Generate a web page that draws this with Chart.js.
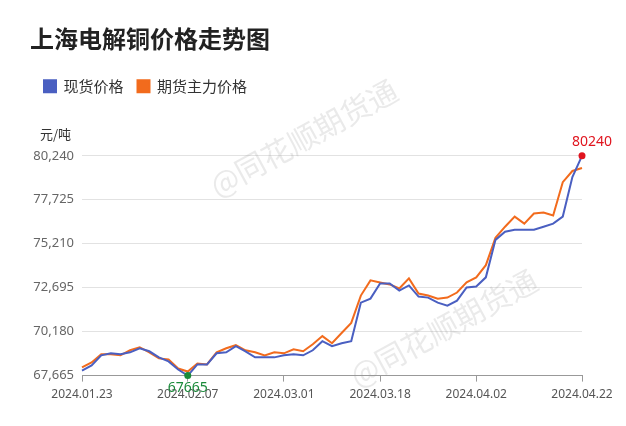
<!DOCTYPE html>
<html lang="zh">
<head>
<meta charset="UTF-8">
<script src="https://cdn.jsdelivr.net/npm/chart.js"></script>
<style>
  body { margin: 0; background: #fff; }
  #wrap { position: relative; width: 626px; height: 426px; }
</style>
</head>
<body>
<div id="wrap"><canvas id="myChart" width="626" height="426"></canvas></div>
<script>
const fechas = ['2024.01.23','2024.01.24','2024.01.25','2024.01.26','2024.01.29','2024.01.30','2024.01.31','2024.02.01','2024.02.02','2024.02.05','2024.02.06','2024.02.07',
  '2024.02.19','2024.02.20','2024.02.21','2024.02.22','2024.02.23','2024.02.26','2024.02.27','2024.02.28','2024.02.29','2024.03.01',
  '2024.03.04','2024.03.05','2024.03.06','2024.03.07','2024.03.11','2024.03.12','2024.03.13','2024.03.14','2024.03.15','2024.03.18',
  '2024.03.19','2024.03.20','2024.03.21','2024.03.22','2024.03.25','2024.03.26','2024.03.27','2024.03.28','2024.03.29','2024.04.02',
  '2024.04.03','2024.04.08','2024.04.09','2024.04.10','2024.04.11','2024.04.12','2024.04.15','2024.04.16','2024.04.17','2024.04.18','2024.04.22'];
const fechasEje = ['2024.01.23','2024.02.07','2024.03.01','2024.03.18','2024.04.02','2024.04.22'];
const precioSpot = [67955,68245,68824,68940,68882,68998,69230,69056,68708,68476,68013,67665,
  68302,68302,68940,68998,69346,69056,68708,68708,68708,68824,
  68882,68824,69114,69635,69346,69519,69635,71837,72069,72938,
  72938,72533,72823,72185,72127,71837,71664,71953,72707,72765,
  73286,75430,75894,76010,76010,76010,76184,76358,76763,79023,80240];
const precioFuturo = [68129,68418,68882,68882,68824,69114,69288,68998,68650,68592,68071,67897,
  68360,68302,68998,69230,69404,69114,68998,68824,68998,68940,
  69172,69056,69461,69925,69519,70099,70678,72243,73112,72996,
  72881,72649,73228,72359,72243,72069,72127,72417,72996,73286,
  73982,75546,76184,76763,76358,76937,76995,76821,78733,79371,79545];
const ticksY = [67665,70180,72695,75210,77725,80240];

const espacioLeyenda = {
  id: 'espacioLeyenda',
  beforeUpdate(chart) {
    const lg = chart.legend;
    if (lg && !lg._extra) {
      const fit = lg.fit;
      lg.fit = function () { fit.call(this); this.height += 52; };
      lg._extra = true;
    }
  }
};

const marcas = {
  id: 'marcas',
  afterDatasetsDraw(chart) {
    const ctx = chart.ctx, x = chart.scales.x, y = chart.scales.y;
    const iMax = precioSpot.indexOf(Math.max(...precioSpot));
    const iMin = precioSpot.indexOf(Math.min(...precioSpot));
    [[iMax, '#e0141e', -14], [iMin, '#1a8a3a', 12]].forEach(([i, color, dy]) => {
      const px = x.getPixelForValue(i), py = y.getPixelForValue(precioSpot[i]);
      ctx.save();
      ctx.fillStyle = color;
      ctx.beginPath(); ctx.arc(px, py, 3.5, 0, Math.PI * 2); ctx.fill();
      ctx.font = '14px "Noto Sans", sans-serif';
      ctx.textAlign = 'center';
      ctx.textBaseline = 'middle';
      ctx.fillText(String(precioSpot[i]), px + (i === iMax ? 10 : 0), py + dy);
      ctx.restore();
    });
    ctx.save();
    ctx.fillStyle = '#333';
    ctx.font = '13px "Noto Sans CJK SC", sans-serif';
    ctx.textAlign = 'left';
    ctx.fillText('元/吨', 40, 134);
    ctx.fillStyle = 'rgba(150,150,150,0.2)';
    ctx.font = '30px "Noto Sans CJK SC", sans-serif';
    [[300, 140], [440, 330]].forEach(([wx, wy]) => {
      ctx.save(); ctx.translate(wx, wy); ctx.rotate(-0.5);
      ctx.fillText('@同花顺期货通', -100, 0); ctx.restore();
    });
    ctx.restore();
  }
};

new Chart(document.getElementById('myChart'), {
  type: 'line',
  data: {
    labels: fechas,
    datasets: [
      { label: '现货价格', data: precioSpot, borderColor: '#4a5fc1', backgroundColor: '#4a5fc1', borderWidth: 2, pointRadius: 0, tension: 0 },
      { label: '期货主力价格', data: precioFuturo, borderColor: '#f26b1d', backgroundColor: '#f26b1d', borderWidth: 2, pointRadius: 0, tension: 0 }
    ]
  },
  options: {
    responsive: false,
    animation: false,
    layout: { padding: { left: 30, right: 44, top: 0, bottom: 18 } },
    plugins: {
      title: { display: true, text: '上海电解铜价格走势图', align: 'start', color: '#222',
        font: { size: 24, weight: 'bold', family: '"Noto Sans CJK SC", sans-serif' }, padding: { top: 24, bottom: 12 } },
      legend: { align: 'start', labels: { boxWidth: 12, boxHeight: 12, color: '#333', padding: 14,
        font: { size: 15, family: '"Noto Sans CJK SC", sans-serif' } } },
      tooltip: { enabled: false }
    },
    scales: {
      x: {
        offset: false,
        grid: { drawOnChartArea: false, tickLength: 6, color: '#999' },
        border: { color: '#999' },
        afterBuildTicks: s => { s.ticks = s.ticks.filter(t => fechasEje.includes(fechas[t.value])); },
        ticks: { autoSkip: false, maxRotation: 0, color: '#555', font: { size: 12, family: '"Noto Sans", sans-serif' }, padding: 6 }
      },
      y: {
        min: 67665, max: 80240,
        afterBuildTicks: s => { s.ticks = ticksY.map(v => ({ value: v })); },
        afterFit: s => { s.width = 52; },
        grid: { color: '#e2e2e2', drawTicks: false },
        border: { display: false },
        ticks: { color: '#666', padding: 8, font: { size: 13, family: '"Noto Sans", sans-serif' },
          callback: v => v.toLocaleString('en-US') }
      }
    }
  },
  plugins: [espacioLeyenda, marcas]
});
</script>
</body>
</html>
